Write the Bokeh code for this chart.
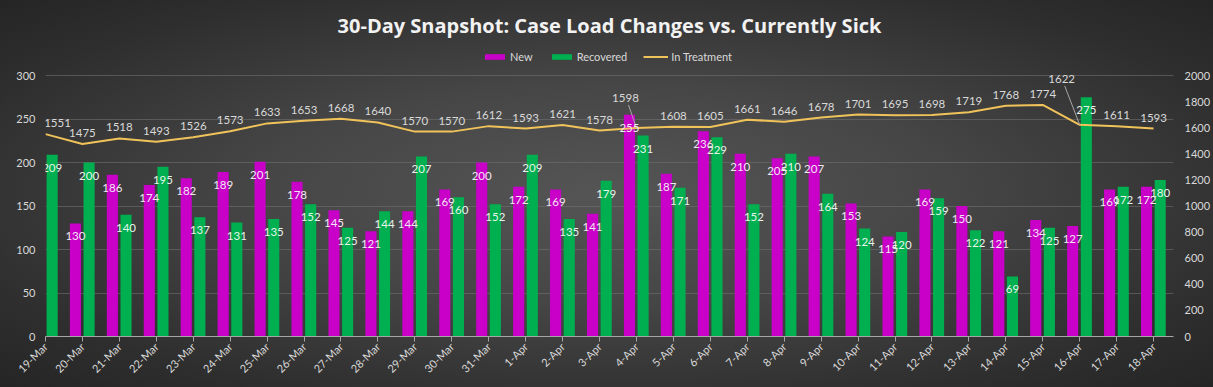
import math
from bokeh.plotting import figure
from bokeh.models import ColumnDataSource, LinearAxis, Range1d, FixedTicker, Legend, LegendItem
from bokeh.transform import dodge
from bokeh.core.properties import value
from bokeh.embed import file_html
from bokeh.resources import INLINE

# ---------------- data ----------------
dates = ["19-Mar", "20-Mar", "21-Mar", "22-Mar", "23-Mar", "24-Mar", "25-Mar", "26-Mar",
         "27-Mar", "28-Mar", "29-Mar", "30-Mar", "31-Mar", "1-Apr", "2-Apr", "3-Apr",
         "4-Apr", "5-Apr", "6-Apr", "7-Apr", "8-Apr", "9-Apr", "10-Apr", "11-Apr",
         "12-Apr", "13-Apr", "14-Apr", "15-Apr", "16-Apr", "17-Apr", "18-Apr"]
new_cases = [None, 130, 186, 174, 182, 189, 201, 178, 145, 121, 144, 169, 200, 172, 169, 141,
             255, 187, 236, 210, 205, 207, 153, 115, 169, 150, 121, 134, 127, 169, 172]
recovered = [209, 200, 140, 195, 137, 131, 135, 152, 125, 144, 207, 160, 152, 209, 135, 179,
             231, 171, 229, 152, 210, 164, 124, 120, 159, 122, 69, 125, 275, 172, 180]
in_treatment = [1551, 1475, 1518, 1493, 1526, 1573, 1633, 1653, 1668, 1640, 1570, 1570, 1612,
                1593, 1621, 1578, 1598, 1608, 1605, 1661, 1646, 1678, 1701, 1695, 1698, 1719,
                1768, 1774, 1622, 1611, 1593]
left_ticks = [0, 50, 100, 150, 200, 250, 300]
right_ticks = [0, 200, 400, 600, 800, 1000, 1200, 1400, 1600, 1800, 2000]

# ---------------- style ----------------
FONT = "Lato"
MAGENTA = "#C800C8"
GREEN = "#00B050"
GOLD = "#F0C35A"
TXT = "#D9D9D9"
W, H = 1213, 387
BL, BR, BT, BB = 45, 38, 45, 51
FRAME_W = W - BL - BR
FRAME_H = H - BT - BB
AXIS_PX = 261            # pixel height of the 0..max axis span
LEFT_MAX, RIGHT_MAX = left_ticks[-1], right_ticks[-1]
LEFT_END = LEFT_MAX * FRAME_H / AXIS_PX
RIGHT_END = RIGHT_MAX * FRAME_H / AXIS_PX
X_END = 30.54
BAR_W = 0.30
NEW_OFF, REC_OFF = -0.19, 0.18
# pixel offsets of line labels; a few were moved in the original
DEFAULT_OFF = (0, -11)
special = {"19-Mar": (12, -11), "4-Apr": (-11, -30), "16-Apr": (-18, -46)}
leader = ["4-Apr", "16-Apr"]

n = len(dates)
xs = list(range(n))
nan = float("nan")
t_dx = [special.get(d, DEFAULT_OFF)[0] for d in dates]
t_dy = [special.get(d, DEFAULT_OFF)[1] for d in dates]

src = ColumnDataSource(dict(
    x=xs,
    new=[nan if v is None else v for v in new_cases],
    new_lbl=["" if v is None else str(v) for v in new_cases],
    rec=recovered,
    rec_lbl=[str(v) for v in recovered],
    treat=in_treatment,
    treat_lbl=[str(v) for v in in_treatment],
    tdx=t_dx,
    tdy=t_dy,
))

# leader lines for the moved labels
px_x = FRAME_W / X_END
px_y = FRAME_H / RIGHT_END
lead = {"x0": [], "y0": [], "x1": [], "y1": []}
for i, d in enumerate(dates):
    if d in leader:
        dx, dy = special[d]
        lead["x0"].append(i)
        lead["y0"].append(in_treatment[i])
        lead["x1"].append(i + (dx + 3) / px_x)
        lead["y1"].append(in_treatment[i] + (-dy - 7) / px_y)
lead_src = ColumnDataSource(lead)

p = figure(width=W, height=H, output_backend="svg", toolbar_location=None,
           x_range=Range1d(0, X_END), y_range=Range1d(0, LEFT_END),
           min_border_left=BL, min_border_right=BR, min_border_top=BT, min_border_bottom=BB,
           title="30-Day Snapshot: Case Load Changes vs. Currently Sick")
p.styles = {"background": "radial-gradient(ellipse at 50% 50%, #555555 0%, #464646 40%, #2e2e2e 80%, #252525 100%)"}
p.border_fill_alpha = 0
p.background_fill_alpha = 0
p.outline_line_color = None

p.title.text_font = "Open Sans"
p.title.text_font_size = "20px"
p.title.text_font_style = "bold"
p.title.text_color = "#F2F2F2"
p.title.align = "center"
p.title.standoff = 13

p.extra_y_ranges = {"right": Range1d(0, RIGHT_END)}

r_new = p.vbar(x=dodge("x", NEW_OFF), top="new", bottom=0, width=BAR_W, source=src,
               fill_color=MAGENTA, line_color=None)
r_rec = p.vbar(x=dodge("x", REC_OFF), top="rec", bottom=0, width=BAR_W, source=src,
               fill_color=GREEN, line_color=None)
r_line = p.line(x="x", y="treat", source=src, y_range_name="right", line_color=GOLD, line_width=2)

p.segment(x0="x0", y0="y0", x1="x1", y1="y1", source=lead_src, y_range_name="right",
          line_color="#A6A6A6", line_width=1)

lbl_kw = dict(text_font=value(FONT), text_font_size="11.5px", text_align="center",
              text_baseline="middle")
p.text(x=dodge("x", NEW_OFF), y="new", text="new_lbl", source=src, y_offset=13,
       text_color="#F4E6F4", **lbl_kw)
p.text(x=dodge("x", REC_OFF), y="rec", text="rec_lbl", source=src, y_offset=13,
       text_color="#E6F4EA", **lbl_kw)
p.text(x="x", y="treat", text="treat_lbl", source=src, y_range_name="right",
       x_offset="tdx", y_offset="tdy", text_color=TXT, **lbl_kw)

# axes
p.xaxis.ticker = FixedTicker(ticks=xs)
p.xaxis.major_label_overrides = {i: d for i, d in enumerate(dates)}
p.xaxis.major_label_orientation = math.pi / 4
p.xaxis.axis_line_color = "#A6A6A6"
p.xaxis.major_tick_line_color = "#A6A6A6"
p.xaxis.major_tick_out = 5
p.xaxis.major_tick_in = 0
p.xaxis.minor_tick_line_color = None
p.xaxis.major_label_standoff = 3

p.yaxis.ticker = FixedTicker(ticks=left_ticks)
ra = LinearAxis(y_range_name="right", ticker=FixedTicker(ticks=right_ticks))
p.add_layout(ra, "right")
p.yaxis[0].major_label_standoff = 10
ra.major_label_standoff = 11
for ax in [p.yaxis[0], ra]:
    ax.axis_line_color = None
    ax.major_tick_line_color = None
    ax.minor_tick_line_color = None
    ax.major_tick_out = 0
    ax.major_tick_in = 0
for ax in [p.xaxis[0], p.yaxis[0], ra]:
    ax.major_label_text_font = FONT
    ax.major_label_text_font_size = "11px"
    ax.major_label_text_color = TXT

p.xgrid.visible = False
p.ygrid.ticker = FixedTicker(ticks=left_ticks)
p.ygrid.grid_line_color = "#707070"
p.ygrid.grid_line_alpha = 0.6

legend = Legend(items=[LegendItem(label="New", renderers=[r_new]),
                       LegendItem(label="Recovered", renderers=[r_rec]),
                       LegendItem(label="In Treatment", renderers=[r_line])],
                orientation="horizontal", location=(437, AXIS_PX + 12))
legend.background_fill_alpha = 0
legend.border_line_color = None
legend.padding = 0
legend.margin = 0
legend.spacing = 16
legend.glyph_width = 25
legend.glyph_height = 7
legend.label_height = 12
legend.label_standoff = 3
legend.label_text_font = FONT
legend.label_text_font_size = "11px"
legend.label_text_color = TXT
p.add_layout(legend, "center")

open("out.html", "w").write(file_html(p, INLINE))
